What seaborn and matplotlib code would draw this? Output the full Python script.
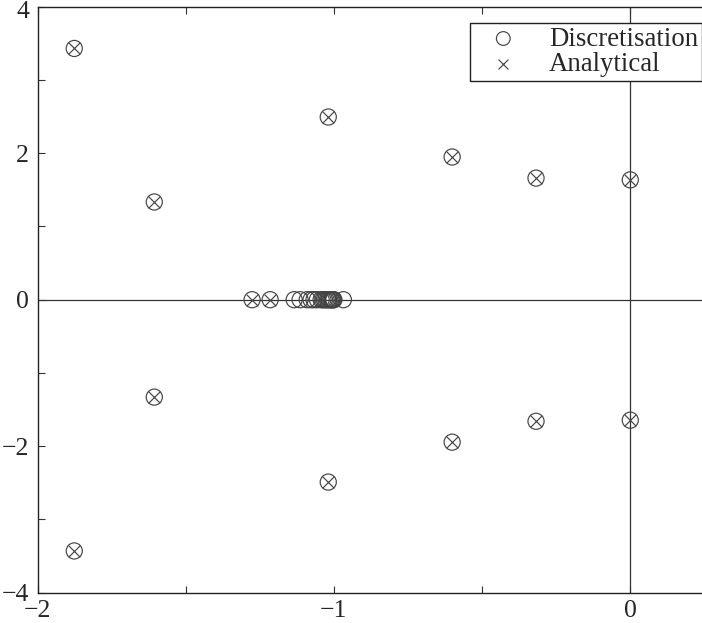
import numpy as np
import pandas as pd
import matplotlib
matplotlib.use("Agg")
import matplotlib.pyplot as plt
import matplotlib.transforms as mtransforms
import seaborn as sns
from matplotlib.ticker import MultipleLocator, FixedLocator
from matplotlib import font_manager

# Complex-conjugate pairs (real part, imag part)
pair_re = [-1.876, -1.606, -1.019, -0.601, -0.318, 0.0]
pair_im_up = [3.43, 1.334, 2.494, 1.948, 1.66, 1.636]
pair_im_dn = [-3.43, -1.33, -2.49, -1.945, -1.66, -1.645]

# Real roots
analytical_real = [-1.276, -1.215]
discr_real = [-1.276, -1.215, -1.134, -1.114, -1.090, -1.077, -1.067, -1.056,
              -1.043, -1.037, -1.032, -1.027, -1.022, -1.018, -1.014, -1.010,
              -1.007, -1.004, -1.002, -1.000, -0.968]

labels = ["Discretisation", "Analytical"]
yticks = [-4, -2, 0, 2, 4]
xticks = [-2, -1, 0]

sns.set_style("white")

for f in font_manager.findSystemFonts():
    if "LiberationSerif" in f.replace(" ", ""):
        try:
            font_manager.fontManager.addfont(f)
        except Exception:
            pass
names = {f.name for f in font_manager.fontManager.ttflist}
serif = "Liberation Serif" if "Liberation Serif" in names else "DejaVu Serif"
plt.rcParams["font.family"] = [serif, "DejaVu Serif"]

disc_x = pair_re + pair_re + discr_real
disc_y = pair_im_up + pair_im_dn + [0.0] * len(discr_real)
ana_x = pair_re + pair_re + analytical_real
ana_y = pair_im_up + pair_im_dn + [0.0] * len(analytical_real)

df_d = pd.DataFrame({"re": disc_x, "im": disc_y})
df_a = pd.DataFrame({"re": ana_x, "im": ana_y})

fig = plt.figure(figsize=(7.02, 6.23), dpi=100)
ax = fig.add_axes([37.5 / 702, (623 - 592.7) / 623, (702 - 37.5) / 702, (592.7 - 6.7) / 623])

ax.axhline(0, color="#333333", lw=0.9, zorder=1)
ax.axvline(0, color="#333333", lw=0.9, zorder=1)

mc = "#444444"
sns.scatterplot(data=df_d, x="re", y="im", ax=ax, marker="o", s=135,
                facecolors="none", edgecolor=mc, linewidth=0.85, label=labels[0], zorder=3)
sns.scatterplot(data=df_a, x="re", y="im", ax=ax, marker="x", s=70,
                color=mc, linewidth=0.85, label=labels[1], zorder=4)

ax.set_xlim(-2, 0.242)
ax.set_ylim(-4, 4)
ax.xaxis.set_major_locator(FixedLocator(xticks))
ax.xaxis.set_minor_locator(MultipleLocator(0.5))
ax.yaxis.set_major_locator(FixedLocator(yticks))
ax.yaxis.set_minor_locator(MultipleLocator(1))
ax.tick_params(which="both", direction="in", length=5, width=0.8, color="#333333",
               top=True, bottom=True, left=True, right=False, labelsize=18.5)
ax.tick_params(axis="x", pad=5)
ax.tick_params(axis="y", pad=6)
ax.set_xlabel("")
ax.set_ylabel("")
for side in ["left", "bottom", "top"]:
    ax.spines[side].set_color("#222222")
    ax.spines[side].set_linewidth(1.0)
ax.spines["right"].set_visible(False)

leg = ax.legend(loc="upper right", bbox_to_anchor=(1.0, 0.973), fontsize=19.3,
                frameon=True, fancybox=False, edgecolor="#222222",
                borderpad=0.15, handletextpad=0.6, labelspacing=0.0,
                borderaxespad=0.0, markerscale=0.85, handlelength=2.2)
leg.get_frame().set_linewidth(1.0)
leg.get_frame().set_alpha(1)

# nudge the top y tick label slightly down so it stays inside the canvas
fig.canvas.draw()
top_lab = ax.yaxis.get_majorticklabels()[-1]
off = mtransforms.ScaledTranslation(0, -2.5 / 100, fig.dpi_scale_trans)
top_lab.set_transform(top_lab.get_transform() + off)

fig.savefig("out.png", dpi=100)
